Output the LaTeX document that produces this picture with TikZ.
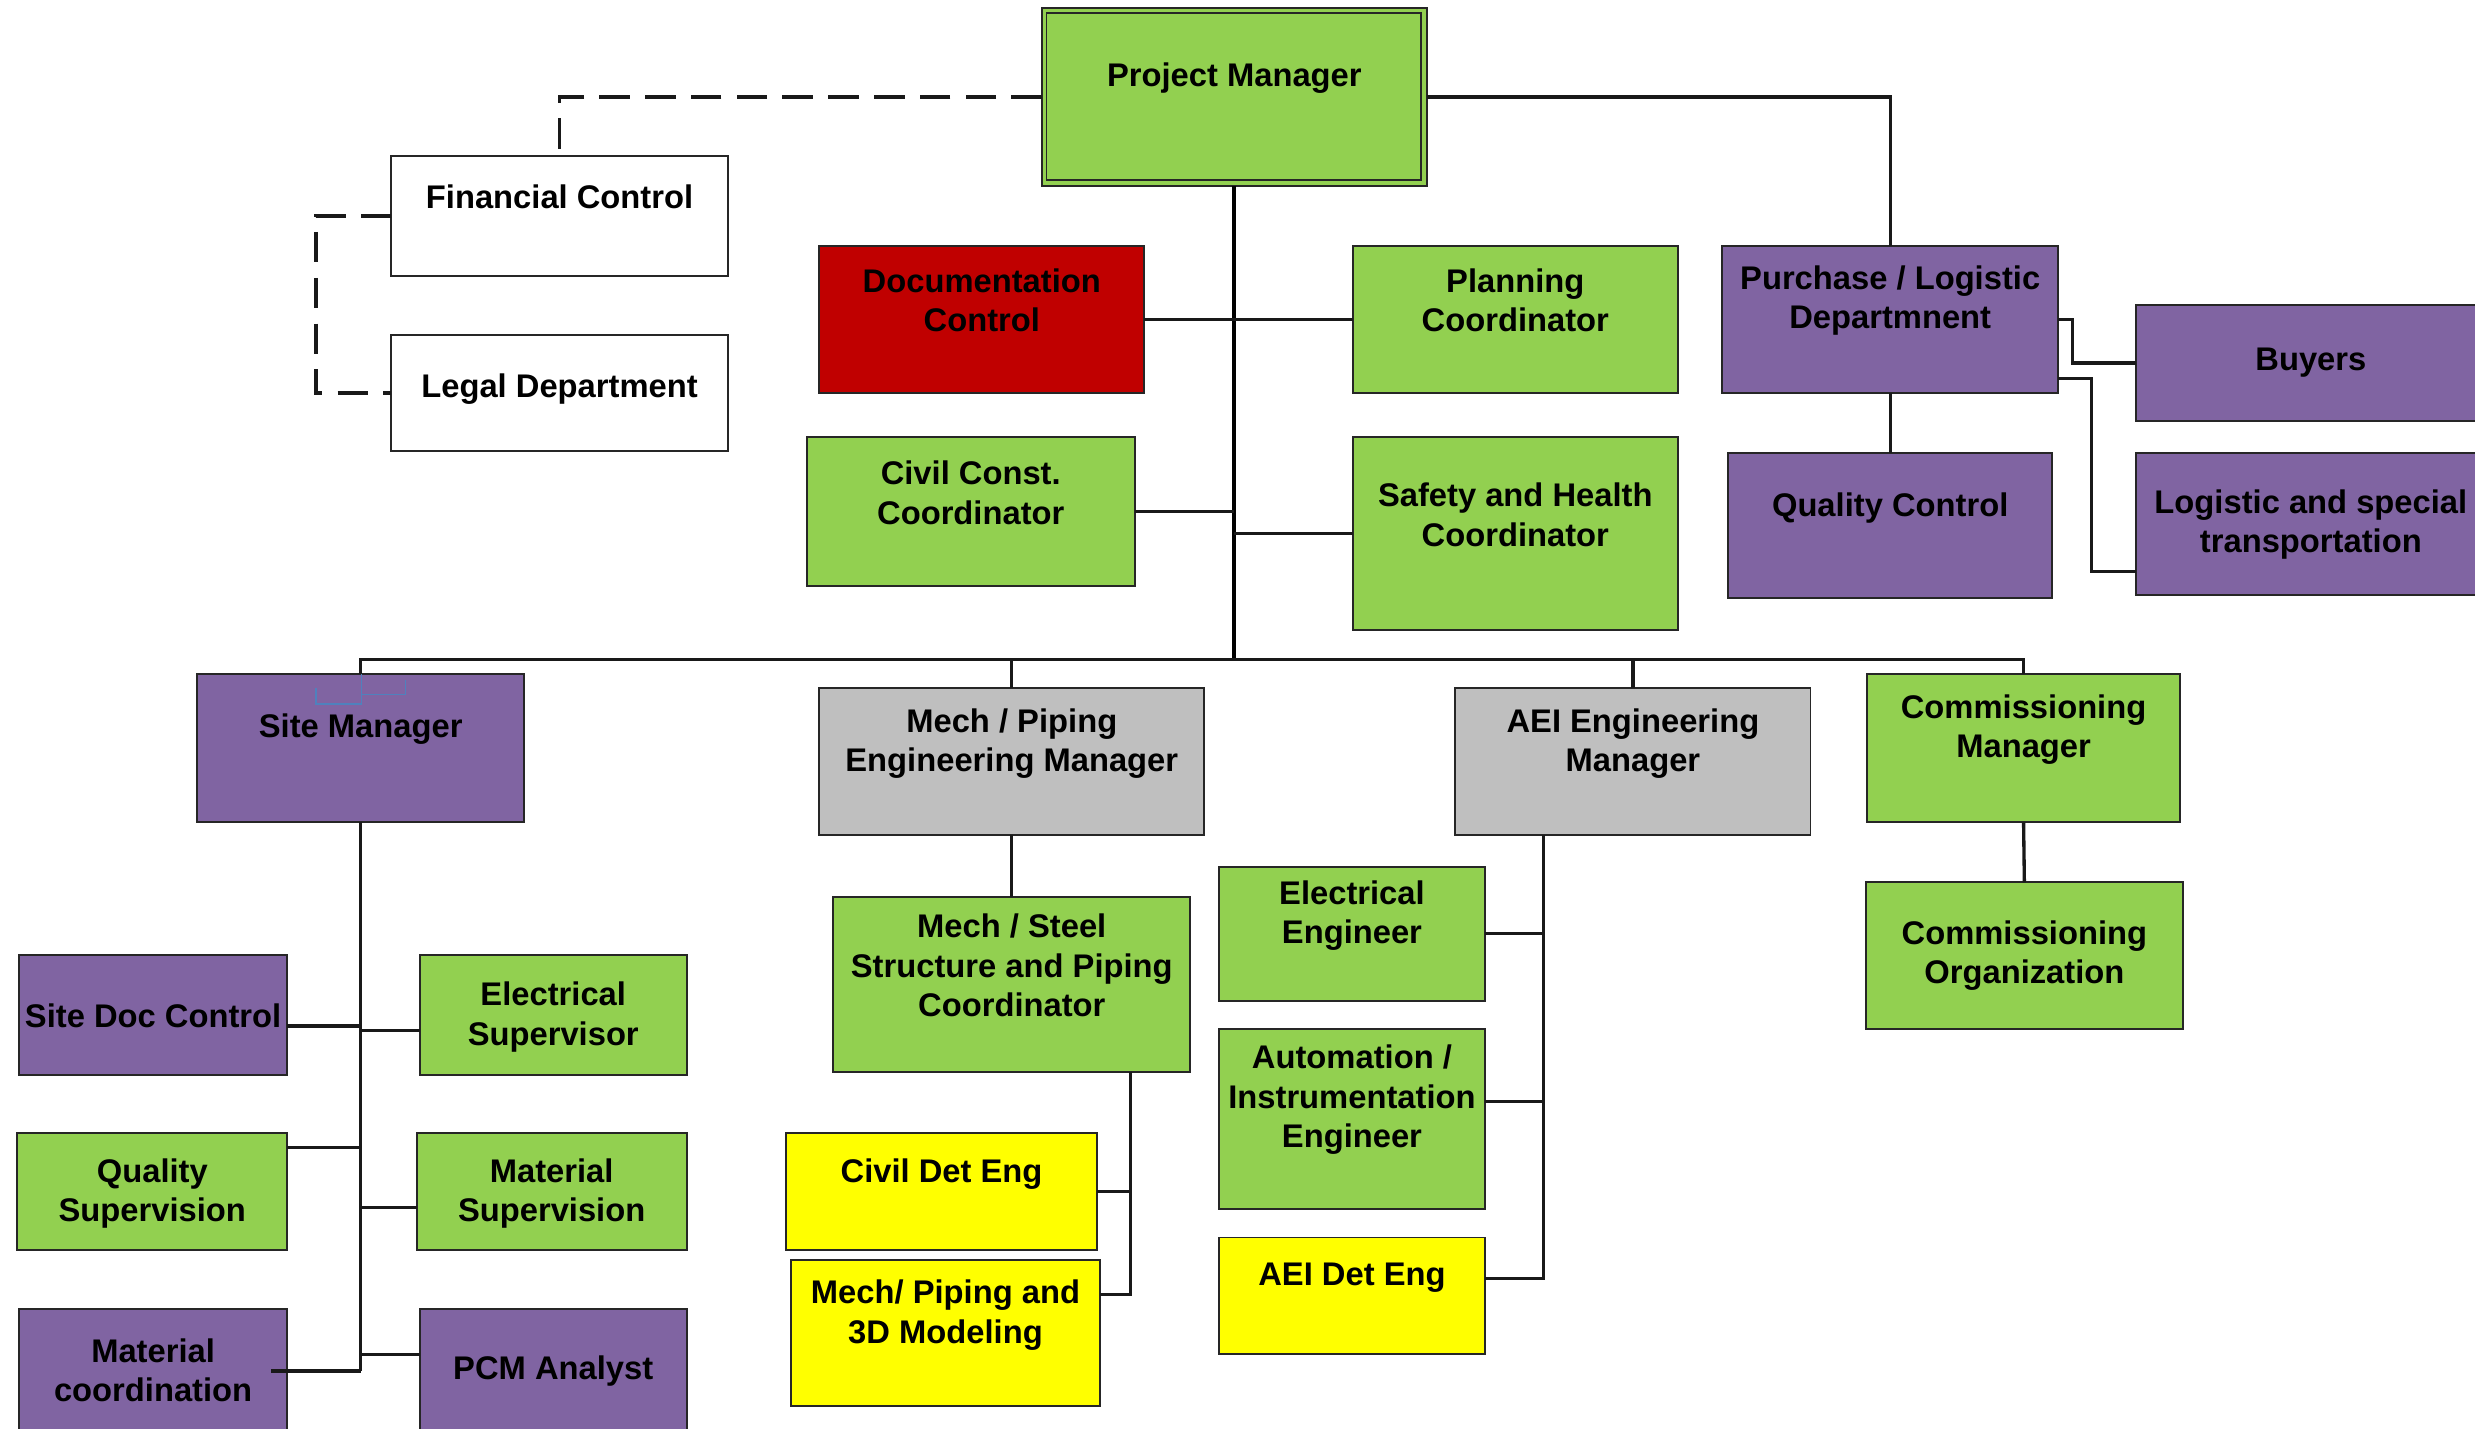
\documentclass[tikz,border=0pt]{standalone}
\usepackage{fontspec}
\setmainfont{Liberation Sans}
\definecolor{grn}{HTML}{92D050}
\definecolor{rd}{HTML}{C00000}
\definecolor{prp}{HTML}{8064A2}
\definecolor{gry}{HTML}{BFBFBF}
\definecolor{ylw}{HTML}{FFFF00}
\definecolor{bluel}{HTML}{4F81BD}
\newcommand\bx[8]{%
  \node[box, fill=#6, minimum width={(#4-#2)*0.02cm}, minimum height={(#5-#3)*0.02cm}] (#1) at ({(#2+#4)/2},{(#3+#5)/2}) {};
  \node[lbl] (#1t) at ({(#2+#4)/2},#7) {#8};
}
\begin{document}
\begin{tikzpicture}[x=0.02cm,y=-0.02cm,
  box/.style={rectangle, draw=black!85, line width=0.7pt, inner sep=0pt, outer sep=0pt},
  lbl/.style={inner sep=0pt, align=center, text=black, yshift=-0.035cm, font=\fontsize{11.8}{14.2}\selectfont\bfseries},
  conn/.style={draw=black!90, line width=1.2pt},
  trunk/.style={draw=black, line width=1.4pt},
  dashc/.style={draw=black!90, line width=1.35pt, dash pattern=on 11pt off 5.5pt}]
\clip (0,0) rectangle (1568,905);
\fill[white] (0,0) rectangle (1568,905);

% top level
\bx{pm}{660}{5}{904}{118}{grn}{48}{Project Manager}
\draw[line width=0.7pt, draw=black!85] ([xshift=0.06cm,yshift=-0.07cm]pm.north west) rectangle ([xshift=-0.07cm,yshift=0.08cm]pm.south east);
\bx{fin}{248}{99}{461}{175}{white}{123}{Financial Control}
\bx{legal}{248}{212}{461}{286}{white}{245}{Legal Department}
\bx{doc}{519}{156}{725}{249}{rd}{188.5}{Documentation\\Control}
\bx{plan}{857}{156}{1063}{249}{grn}{188.5}{Planning\\Coordinator}
\bx{civil}{511}{277}{719}{371}{grn}{310.5}{Civil Const.\\Coordinator}
\bx{safety}{857}{277}{1063}{399}{grn}{324.5}{Safety and Health\\Coordinator}
\bx{purch}{1091}{156}{1304}{249}{prp}{188.5}{Purchase / Logistic\\Departmnent}
\bx{buyers}{1353}{193}{1575}{267}{prp}{228}{Buyers}
\bx{qc}{1095}{287}{1300}{379}{prp}{320}{Quality Control}
\bx{logi}{1353}{287}{1575}{377}{prp}{330.5}{Logistic and special\\transportation}

% managers
\bx{site}{125}{427}{332}{521}{prp}{460}{Site Manager}
\bx{mechmgr}{519}{436}{763}{529}{gry}{469.5}{Mech / Piping\\Engineering Manager}
\bx{aeimgr}{922}{436}{1147}{529}{gry}{469.5}{AEI Engineering\\Manager}
\bx{commmgr}{1183}{427}{1381}{521}{grn}{460.5}{Commissioning\\Manager}
\bx{commorg}{1182}{559}{1383}{652}{grn}{603.5}{Commissioning\\Organization}

% mech / aei
\bx{mechsteel}{528}{568}{754}{679}{grn}{610}{Mech / Steel\\Structure and Piping\\Coordinator}
\bx{eleng}{772}{549}{941}{634}{grn}{578.5}{Electrical\\Engineer}
\bx{auto}{772}{652}{941}{766}{grn}{695}{Automation /\\Instrumentation\\Engineer}
\bx{aeidet}{772}{784}{941}{858}{ylw}{808}{AEI Det Eng}
\bx{civdet}{498}{718}{695}{792}{ylw}{742}{Civil Det Eng}
\bx{mech3d}{501}{798}{697}{891}{ylw}{831.5}{Mech/ Piping and\\3D Modeling}

% site
\bx{sitedoc}{12}{605}{182}{681}{prp}{642}{Site Doc Control}
\bx{elsup}{266}{605}{435}{681}{grn}{642.5}{Electrical\\Supervisor}
\bx{qsup}{11}{718}{182}{792}{grn}{754.5}{Quality\\Supervision}
\bx{matsup}{264}{718}{435}{792}{grn}{754.5}{Material\\Supervision}
\bx{matcoord}{12}{829}{182}{907}{prp}{866.5}{Material\\coordination}
\bx{pcm}{266}{829}{435}{907}{prp}{867}{PCM Analyst}

% coordinates
\coordinate (bus) at (782,418);
\coordinate (msb) at (716,679);
\coordinate (aeib) at (978,529);

% dashed links
\draw[dashc] (pm.west) -| (fin.north);
\draw[dashc] (fin.west) -- (200,137) |- (legal.west);

% main links
\draw[conn] (pm.east) -| (purch.north);
\draw[trunk] (pm.south) -- (bus);
\draw[conn] (doc.east) -- (plan.west);
\draw[conn] (civil.east) -- (civil.east -| bus);
\draw[conn] (safety.west) -- (safety.west -| bus);
\draw[conn] (site.north) |- (commmgr.north |- bus) -- (commmgr.north);
\draw[conn] (mechmgr.north) -- (mechmgr.north |- bus);
\draw[conn] (aeimgr.north) -- (aeimgr.north |- bus);

% purchase
\draw[conn] (purch.east) -- (1313,202.5) |- (buyers.west);
\draw[conn] (purch.east |- 0,240) -| (1325,362) -- (logi.west |- 0,362);
\draw[conn] (purch.south) -- (qc.north);

% mech
\draw[conn] (mechmgr.south) -- (mechsteel.north);
\draw[conn] (msb) |- (mech3d.east |- 0,820);
\draw[conn] (civdet.east) -- (civdet.east -| msb);

% aei
\draw[conn] (aeib) |- (aeidet.east |- 0,810);
\draw[conn] (eleng.east) -- (eleng.east -| aeib);
\draw[conn] (auto.east |- 0,698) -- (aeib |- 0,698);

% commissioning
\draw[conn] (commmgr.south) -- (commorg.north);

% site
\draw[conn] (site.south) -- (site.south |- 0,868.6);
\draw[conn] (sitedoc.east |- 0,650) -- (site.south |- 0,650);
\draw[conn] (site.south |- 0,653) -- (elsup.west |- 0,653);
\draw[conn] (qsup.east |- 0,727) -- (site.south |- 0,727);
\draw[conn] (site.south |- 0,765) -- (matsup.west |- 0,765);
\draw[conn] (172,868.6) -- (site.south |- 0,868.6);
\draw[conn] (site.south |- 0,858) -- (pcm.west |- 0,858);

% small blue marks
\draw[bluel, line width=0.6pt] (200,436) -- (200,446) -- (229,446) -- (229,427);
\draw[bluel, line width=0.6pt] (229,440) -- (257,440) -- (257,431);
\end{tikzpicture}
\end{document}
